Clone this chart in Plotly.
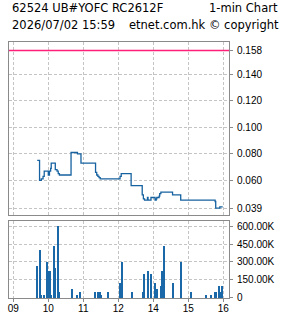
import plotly.graph_objects as go

# ---------------- data ----------------
title_left_1 = "62524 UB#YOFC RC2612F"
title_right_1 = "1-min Chart"
title_left_2 = "2026/07/02 15:59"
title_right_2 = "etnet.com.hk © copyright"

ref_price = 0.158

price_times = ["09:41", "09:45", "09:48", "09:51", "09:53", "10:00", "10:02", "10:04", "10:05",
               "10:12", "10:15", "10:17", "10:19", "10:39", "10:50", "10:56", "11:21", "11:23",
               "11:25", "11:27", "11:29", "13:03", "13:05", "13:22", "13:41", "13:43", "13:45",
               "13:50", "13:51", "13:56", "14:03", "14:05", "14:06", "14:10", "14:11", "14:13",
               "14:33", "14:47", "15:46", "15:47", "15:54", "15:59"]
price_values = [0.075, 0.060, 0.061, 0.063, 0.067, 0.064, 0.067, 0.069, 0.073,
                0.068, 0.067, 0.065, 0.064, 0.081, 0.080, 0.073, 0.066, 0.064,
                0.063, 0.062, 0.061, 0.063, 0.065, 0.056, 0.049, 0.046, 0.045,
                0.047, 0.045, 0.047, 0.045, 0.046, 0.047, 0.048, 0.050, 0.051,
                0.049, 0.045, 0.044, 0.039, 0.040, 0.040]

vol_times = ["09:41", "09:46", "09:47", "09:53", "09:58", "10:00", "10:02", "10:03", "10:05",
             "10:10", "10:12", "10:17", "10:19", "10:41", "10:50", "10:55", "11:21", "11:26",
             "11:29", "11:31", "11:43", "13:03", "13:07", "13:24", "13:43", "13:45", "13:51",
             "13:57", "14:03", "14:07", "14:14", "14:15", "14:19", "14:34", "14:48", "15:05",
             "15:31", "15:39", "15:46", "15:47", "15:53", "15:55", "15:58"]
vol_values = [270000, 400000, 20000, 20000, 300000, 225000, 150000, 225000, 20000,
              430000, 250000, 600000, 45000, 75000, 20000, 45000, 45000, 45000,
              45000, 20000, 45000, 120000, 300000, 45000, 45000, 200000, 225000,
              200000, 120000, 75000, 100000, 225000, 430000, 120000, 300000, 45000,
              20000, 20000, 45000, 45000, 100000, 45000, 100000]

hour_ticks = ["09:00", "10:00", "11:00", "12:00", "14:00", "15:00", "16:00"]
hour_labels = ["09", "10", "11", "12", "14", "15", "16"]

price_ticks = [0.039, 0.060, 0.080, 0.100, 0.120, 0.140, 0.158]
vol_ticks = [0, 150000, 300000, 450000, 600000]
vol_tick_labels = ["0", "150.00K", "300.00K", "450.00K", "600.00K"]


def session_pos(hhmm):
    """Trading-time position in hours, lunch hour (12:00-13:00) removed."""
    h, m = hhmm.split(":")
    v = int(h) + int(m) / 60.0
    return v - 10 if v >= 13 else v - 9


px = [session_pos(t) for t in price_times]
vx = [session_pos(t) for t in vol_times]
hx = [session_pos(t) for t in hour_ticks]

LINE_BLUE = "#1662a0"
BAR_BLUE = "#1a68a8"
PINK = "#ff1f78"
FRAME = "#8a8a8a"
GRID = "#c4c4c4"

fig = go.Figure()
fig.add_trace(go.Scatter(x=px, y=price_values, mode="lines", line=dict(color=LINE_BLUE, width=1.3, shape="hv"),
                         xaxis="x", yaxis="y", showlegend=False, hoverinfo="skip"))
fig.add_trace(go.Bar(x=vx, y=vol_values, marker=dict(color=BAR_BLUE, line=dict(width=0)), width=0.045,
                     xaxis="x2", yaxis="y2", showlegend=False, hoverinfo="skip"))

fig.add_shape(type="line", xref="x domain", yref="y", x0=0, x1=1, y0=ref_price, y1=ref_price,
              line=dict(color=PINK, width=1.3), layer="above")

xr = [-0.123, 6.163]
axis_common = dict(showline=True, mirror=True, linecolor=FRAME, linewidth=1,
                   showgrid=True, gridcolor=GRID, gridwidth=1, griddash="3px,2px",
                   zeroline=False, automargin=False,
                   tickfont=dict(family="Liberation Sans", size=10, color="#000000"))

fig.update_layout(
    width=285, height=318,
    margin=dict(l=9, r=56, t=42, b=20, pad=0),
    paper_bgcolor="white", plot_bgcolor="white",
    bargap=0,
    xaxis=dict(domain=[0, 1], anchor="y", range=xr, tickvals=hx, showticklabels=False,
               ticks="", **axis_common),
    yaxis=dict(domain=[0.3242, 1], anchor="x", side="right", range=[0.0338, 0.1644],
               tickvals=price_ticks, ticktext=[f"{v:.3f}" for v in price_ticks],
               ticks="outside", ticklen=3, tickcolor=FRAME, ticklabelstandoff=2, **axis_common),
    xaxis2=dict(domain=[0, 1], anchor="y2", range=xr, tickvals=hx, ticktext=hour_labels,
                ticks="outside", ticklen=3, tickcolor=FRAME, ticklabelstandoff=-2, **axis_common),
    yaxis2=dict(domain=[0, 0.3008], anchor="x2", side="right", range=[-2500, 643000],
                tickvals=vol_ticks, ticktext=vol_tick_labels,
                ticks="outside", ticklen=3, tickcolor=FRAME, ticklabelstandoff=2, **axis_common),
)

tfont = dict(family="DejaVu Sans", size=11.5, color="#000000")
fig.add_annotation(text=title_left_1, xref="paper", yref="paper", x=1 / 220, y=1 + 34 / 256,
                   xanchor="left", yanchor="middle", showarrow=False, font=tfont)
fig.add_annotation(text=title_right_1, xref="paper", yref="paper", x=(279.5 - 9) / 220, y=1 + 34 / 256,
                   xanchor="right", yanchor="middle", showarrow=False, font=tfont)
fig.add_annotation(text=title_left_2, xref="paper", yref="paper", x=1 / 220, y=1 + 17 / 256,
                   xanchor="left", yanchor="middle", showarrow=False, font=tfont)
fig.add_annotation(text=title_right_2, xref="paper", yref="paper", x=(281 - 9) / 220, y=1 + 17 / 256,
                   xanchor="right", yanchor="middle", showarrow=False, font=tfont)

fig.write_html("out.html")
